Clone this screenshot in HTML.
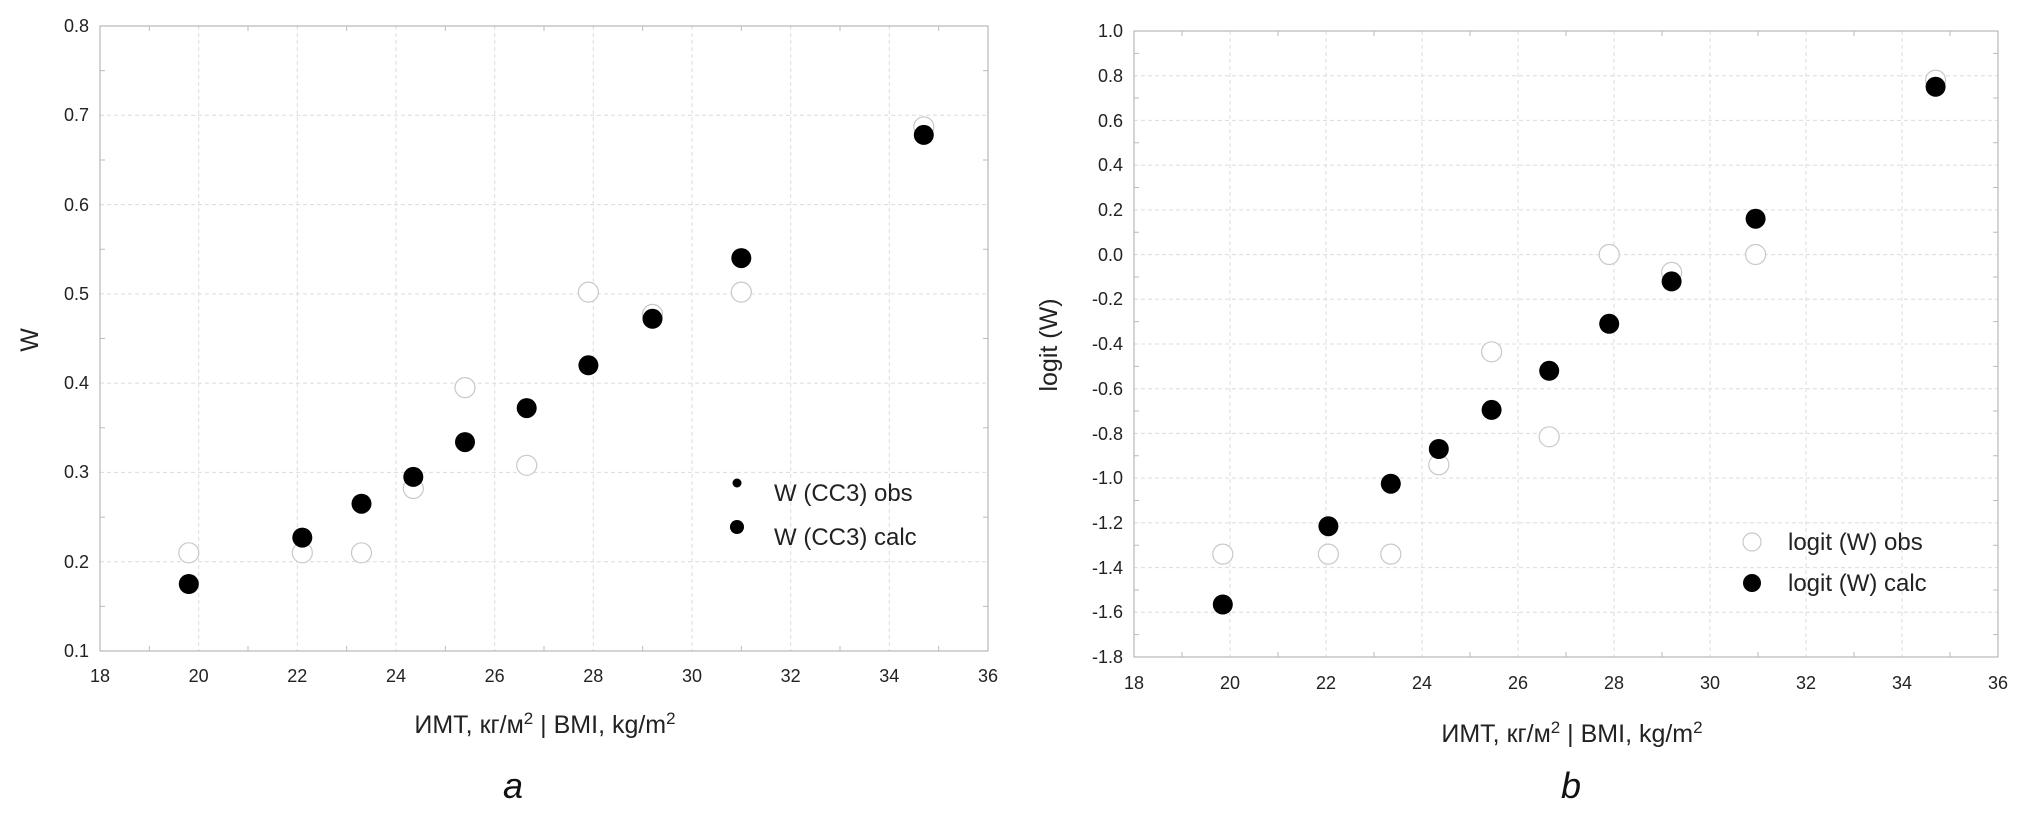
<!DOCTYPE html>
<html><head><meta charset="utf-8"><style>
html,body{margin:0;padding:0;background:#fff;}
svg{display:block;font-family:"Liberation Sans",Arial,sans-serif;}
</style></head><body>
<svg width="2020" height="822" viewBox="0 0 2020 822" xmlns="http://www.w3.org/2000/svg">
<rect width="2020" height="822" fill="#fff"/>
<!-- LEFT grid -->
<g stroke="#dcdcdc" stroke-width="1" stroke-dasharray="4,3">
<line x1="198.7" y1="26" x2="198.7" y2="651"/><line x1="297.3" y1="26" x2="297.3" y2="651"/><line x1="396" y1="26" x2="396" y2="651"/><line x1="494.7" y1="26" x2="494.7" y2="651"/><line x1="593.3" y1="26" x2="593.3" y2="651"/><line x1="692" y1="26" x2="692" y2="651"/><line x1="790.7" y1="26" x2="790.7" y2="651"/><line x1="889.3" y1="26" x2="889.3" y2="651"/>
<line x1="100" y1="561.7" x2="988" y2="561.7"/><line x1="100" y1="472.4" x2="988" y2="472.4"/><line x1="100" y1="383.1" x2="988" y2="383.1"/><line x1="100" y1="293.9" x2="988" y2="293.9"/><line x1="100" y1="204.6" x2="988" y2="204.6"/><line x1="100" y1="115.3" x2="988" y2="115.3"/>
</g>
<rect x="100" y="26" width="888" height="625" fill="none" stroke="#aaa" stroke-width="1"/>
<path stroke="#bbb" stroke-width="1" fill="none" d="
M149.3 651v-5M248 651v-5M346.7 651v-5M445.3 651v-5M544 651v-5M642.7 651v-5M741.3 651v-5M840 651v-5M938.7 651v-5
M149.3 26v5M248 26v5M346.7 26v5M445.3 26v5M544 26v5M642.7 26v5M741.3 26v5M840 26v5M938.7 26v5
M100 606.4h5M100 517.1h5M100 427.8h5M100 338.5h5M100 249.2h5M100 160h5M100 70.6h5
M988 606.4h-5M988 517.1h-5M988 427.8h-5M988 338.5h-5M988 249.2h-5M988 160h-5M988 70.6h-5"/>
<g font-size="18" fill="#222" text-anchor="end">
<text x="89" y="657">0.1</text><text x="89" y="568">0.2</text><text x="89" y="478">0.3</text><text x="89" y="389">0.4</text><text x="89" y="300">0.5</text><text x="89" y="211">0.6</text><text x="89" y="121">0.7</text><text x="89" y="32">0.8</text>
</g>
<g font-size="18" fill="#222" text-anchor="middle">
<text x="100" y="682">18</text><text x="198.7" y="682">20</text><text x="297.3" y="682">22</text><text x="396" y="682">24</text><text x="494.7" y="682">26</text><text x="593.3" y="682">28</text><text x="692" y="682">30</text><text x="790.7" y="682">32</text><text x="889.3" y="682">34</text><text x="988" y="682">36</text>
</g>
<text x="545" y="733" font-size="25" fill="#222" text-anchor="middle">ИМТ, кг/м<tspan font-size="17" dy="-9">2</tspan><tspan dy="9"> | BMI, kg/m</tspan><tspan font-size="17" dy="-9">2</tspan></text>
<text transform="translate(38,340) rotate(-90)" font-size="25" fill="#222" text-anchor="middle">W</text>
<text x="513" y="798" font-size="36" font-style="italic" fill="#111" text-anchor="middle">a</text>
<g fill="#fff" stroke="#c8c8c8" stroke-width="1.2">
<circle cx="188.8" cy="552.8" r="10"/><circle cx="302.3" cy="552.8" r="10"/><circle cx="361.5" cy="552.8" r="10"/><circle cx="413.3" cy="488.5" r="10"/><circle cx="465" cy="387.6" r="10"/><circle cx="526.7" cy="465.3" r="10"/><circle cx="588.4" cy="292.1" r="10"/><circle cx="652.5" cy="314.4" r="10"/><circle cx="741.3" cy="292.1" r="10"/><circle cx="923.8" cy="126.9" r="10"/>
</g>
<g fill="#000">
<circle cx="188.8" cy="584" r="10"/><circle cx="302.3" cy="537.6" r="10"/><circle cx="361.5" cy="503.7" r="10"/><circle cx="413.3" cy="476.9" r="10"/><circle cx="465" cy="442.1" r="10"/><circle cx="526.7" cy="408.1" r="10"/><circle cx="588.4" cy="365.3" r="10"/><circle cx="652.5" cy="318.8" r="10"/><circle cx="741.3" cy="258.1" r="10"/><circle cx="923.8" cy="134.9" r="10"/>
<circle cx="737" cy="483" r="4.5"/><circle cx="737" cy="527" r="7"/>
</g>
<g font-size="24" fill="#222"><text x="774" y="501">W (CC3) obs</text><text x="774" y="545">W (CC3) calc</text></g>

<!-- RIGHT -->
<g stroke="#dcdcdc" stroke-width="1" stroke-dasharray="4,3">
<line x1="1230" y1="31" x2="1230" y2="657"/><line x1="1326" y1="31" x2="1326" y2="657"/><line x1="1422" y1="31" x2="1422" y2="657"/><line x1="1518" y1="31" x2="1518" y2="657"/><line x1="1614" y1="31" x2="1614" y2="657"/><line x1="1710" y1="31" x2="1710" y2="657"/><line x1="1806" y1="31" x2="1806" y2="657"/><line x1="1902" y1="31" x2="1902" y2="657"/>
<line x1="1134" y1="612.3" x2="1998" y2="612.3"/><line x1="1134" y1="567.6" x2="1998" y2="567.6"/><line x1="1134" y1="522.9" x2="1998" y2="522.9"/><line x1="1134" y1="478.1" x2="1998" y2="478.1"/><line x1="1134" y1="433.4" x2="1998" y2="433.4"/><line x1="1134" y1="388.7" x2="1998" y2="388.7"/><line x1="1134" y1="344" x2="1998" y2="344"/><line x1="1134" y1="299.3" x2="1998" y2="299.3"/><line x1="1134" y1="254.6" x2="1998" y2="254.6"/><line x1="1134" y1="209.9" x2="1998" y2="209.9"/><line x1="1134" y1="165.1" x2="1998" y2="165.1"/><line x1="1134" y1="120.4" x2="1998" y2="120.4"/><line x1="1134" y1="75.7" x2="1998" y2="75.7"/>
</g>
<rect x="1134" y="31" width="864" height="626" fill="none" stroke="#aaa" stroke-width="1"/>
<path stroke="#bbb" stroke-width="1" fill="none" d="
M1182 657v-5M1278 657v-5M1374 657v-5M1470 657v-5M1566 657v-5M1662 657v-5M1758 657v-5M1854 657v-5M1950 657v-5
M1182 31v5M1278 31v5M1374 31v5M1470 31v5M1566 31v5M1662 31v5M1758 31v5M1854 31v5M1950 31v5
M1134 634.6h5M1134 590h5M1134 545.2h5M1134 500.5h5M1134 455.8h5M1134 411h5M1134 366.4h5M1134 321.6h5M1134 277h5M1134 232.2h5M1134 187.5h5M1134 142.8h5M1134 98h5M1134 53.4h5
M1998 634.6h-5M1998 590h-5M1998 545.2h-5M1998 500.5h-5M1998 455.8h-5M1998 411h-5M1998 366.4h-5M1998 321.6h-5M1998 277h-5M1998 232.2h-5M1998 187.5h-5M1998 142.8h-5M1998 98h-5M1998 53.4h-5"/>
<g font-size="18" fill="#222" text-anchor="end">
<text x="1123" y="663">-1.8</text><text x="1123" y="618">-1.6</text><text x="1123" y="574">-1.4</text><text x="1123" y="529">-1.2</text><text x="1123" y="484">-1.0</text><text x="1123" y="440">-0.8</text><text x="1123" y="395">-0.6</text><text x="1123" y="350">-0.4</text><text x="1123" y="305">-0.2</text><text x="1123" y="261">0.0</text><text x="1123" y="216">0.2</text><text x="1123" y="171">0.4</text><text x="1123" y="127">0.6</text><text x="1123" y="82">0.8</text><text x="1123" y="37">1.0</text>
</g>
<g font-size="18" fill="#222" text-anchor="middle">
<text x="1134" y="689">18</text><text x="1230" y="689">20</text><text x="1326" y="689">22</text><text x="1422" y="689">24</text><text x="1518" y="689">26</text><text x="1614" y="689">28</text><text x="1710" y="689">30</text><text x="1806" y="689">32</text><text x="1902" y="689">34</text><text x="1998" y="689">36</text>
</g>
<text x="1572" y="742" font-size="25" fill="#222" text-anchor="middle">ИМТ, кг/м<tspan font-size="17" dy="-9">2</tspan><tspan dy="9"> | BMI, kg/m</tspan><tspan font-size="17" dy="-9">2</tspan></text>
<text transform="translate(1057,345) rotate(-90)" font-size="25" fill="#222" text-anchor="middle">logit (W)</text>
<text x="1571" y="798" font-size="36" font-style="italic" fill="#111" text-anchor="middle">b</text>
<g fill="#fff" stroke="#c8c8c8" stroke-width="1.2">
<circle cx="1222.8" cy="554.1" r="10"/><circle cx="1328.4" cy="554.1" r="10"/><circle cx="1390.8" cy="554.1" r="10"/><circle cx="1438.8" cy="464.7" r="10"/><circle cx="1491.6" cy="351.8" r="10"/><circle cx="1549.2" cy="436.8" r="10"/><circle cx="1609.2" cy="254.5" r="10"/><circle cx="1671.6" cy="272.4" r="10"/><circle cx="1755.6" cy="254.5" r="10"/><circle cx="1935.6" cy="80.1" r="10"/>
<circle cx="1752" cy="542" r="9"/>
</g>
<g fill="#000">
<circle cx="1222.8" cy="604.5" r="10"/><circle cx="1328.4" cy="526.2" r="10"/><circle cx="1390.8" cy="483.7" r="10"/><circle cx="1438.8" cy="449" r="10"/><circle cx="1491.6" cy="409.9" r="10"/><circle cx="1549.2" cy="370.8" r="10"/><circle cx="1609.2" cy="323.8" r="10"/><circle cx="1671.6" cy="281.4" r="10"/><circle cx="1755.6" cy="218.7" r="10"/><circle cx="1935.6" cy="86.8" r="10"/>
<circle cx="1752" cy="583" r="9"/>
</g>
<g font-size="24" fill="#222"><text x="1788" y="550">logit (W) obs</text><text x="1788" y="591">logit (W) calc</text></g>
</svg>
</body></html>
